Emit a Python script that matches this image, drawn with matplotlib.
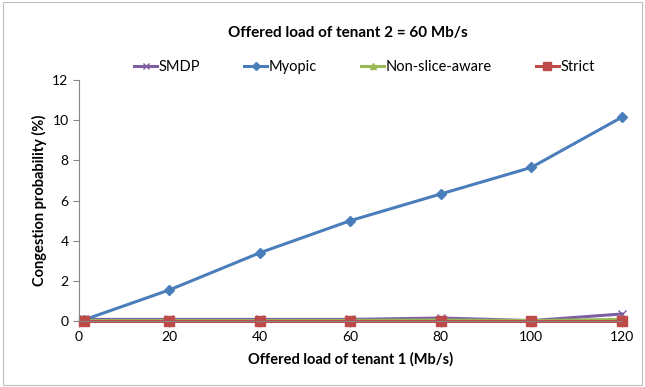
import matplotlib
matplotlib.use('Agg')
import matplotlib.pyplot as plt
from matplotlib.patches import Rectangle

plt.rcParams['font.family'] = ['Lato', 'DejaVu Sans']

# data
load_t1 = [1, 20, 40, 60, 80, 100, 120]
smdp = [0.08, 0.08, 0.08, 0.08, 0.15, 0.02, 0.35]
myopic = [0.05, 1.55, 3.4, 5.0, 6.33, 7.65, 10.15]
non_slice = [0.02, 0.02, 0.02, 0.03, 0.05, 0.02, 0.08]
strict = [0.0, 0.0, 0.0, 0.0, 0.0, 0.0, 0.0]

fig = plt.figure(figsize=(6.45, 3.87), dpi=100)
fig.patches.append(Rectangle((0.004, 0.004), 0.992, 0.992, transform=fig.transFigure,
                             fill=False, edgecolor='#bfbfbf', linewidth=0.8))
ax = fig.add_axes([0.1225, 0.1705, 0.8415, 0.6225])

ax.plot(load_t1, smdp, color='#7e5fa3', marker='x', markersize=6, linewidth=2.2, label='SMDP', clip_on=False)
ax.plot(load_t1, myopic, color='#4a7ebb', marker='D', markersize=5, linewidth=2.2, label='Myopic', clip_on=False)
ax.plot(load_t1, non_slice, color='#98b954', marker='^', markersize=6, linewidth=2.2, label='Non-slice-aware', clip_on=False)
ax.plot(load_t1, strict, color='#be4b48', marker='s', markersize=7, linewidth=2.2, label='Strict', clip_on=False)

ax.set_xlim(0, 120)
ax.set_ylim(0, 12)
ax.set_xticks(range(0, 121, 20))
ax.set_yticks(range(0, 13, 2))
ax.spines['top'].set_visible(False)
ax.spines['right'].set_visible(False)
ax.spines['left'].set_color('#868686')
ax.spines['bottom'].set_color('#868686')
ax.tick_params(axis='both', colors='#868686', labelcolor='black', labelsize=10, length=4)
ax.set_xlabel('Offered load of tenant 1 (Mb/s)', fontsize=10.5, fontweight='bold', labelpad=6)
ax.set_ylabel('Congestion probability (%)', fontsize=10.5, fontweight='bold')

fig.text(0.54, 0.915, 'Offered load of tenant 2 = 60 Mb/s', ha='center', va='center',
         fontsize=11, fontweight='bold')
fig.legend(loc='center', bbox_to_anchor=(0.565, 0.827), ncol=4, frameon=False, fontsize=10.5,
           handlelength=1.6, handletextpad=0.1, columnspacing=3.0, markerscale=0.8)

fig.savefig('out.png', dpi=100)
